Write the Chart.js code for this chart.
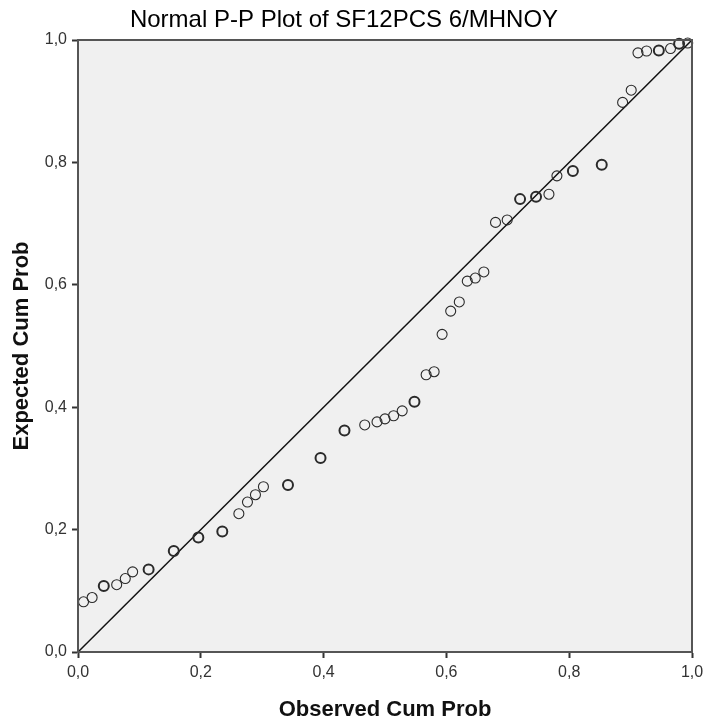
<!DOCTYPE html>
<html>
<head>
<meta charset="utf-8">
<script src="https://cdn.jsdelivr.net/npm/chart.js@4.4.1/dist/chart.umd.min.js"></script>
<style>
  html, body { margin: 0; padding: 0; background: #fff; }
  #wrap { width: 704px; height: 724px; position: relative; }
</style>
</head>
<body>
<div id="wrap"><canvas id="ppChart" width="704" height="724"></canvas></div>
<script>
// observed cumulative probability (x) and expected cumulative probability (y)
const observedCum = [0.009, 0.023, 0.042, 0.063, 0.077, 0.089, 0.115, 0.156, 0.196, 0.235,
    0.262, 0.276, 0.289, 0.302, 0.342, 0.395, 0.434, 0.467, 0.487, 0.500,
    0.514, 0.528, 0.548, 0.567, 0.580, 0.593, 0.607, 0.621, 0.634, 0.647,
    0.661, 0.680, 0.699, 0.720, 0.746, 0.767, 0.780, 0.806, 0.853, 0.887,
    0.901, 0.912, 0.926, 0.946, 0.965, 0.979, 0.993];
const expectedCum = [0.082, 0.089, 0.108, 0.110, 0.120, 0.131, 0.135, 0.165, 0.187, 0.197,
    0.226, 0.245, 0.257, 0.270, 0.273, 0.317, 0.362, 0.371, 0.376, 0.381,
    0.386, 0.394, 0.409, 0.453, 0.458, 0.519, 0.557, 0.572, 0.606, 0.611,
    0.621, 0.702, 0.706, 0.740, 0.744, 0.748, 0.778, 0.786, 0.796, 0.898,
    0.918, 0.979, 0.982, 0.983, 0.986, 0.994, 0.995];
// number of cases sharing each point (tied values are drawn heavier)
const caseCount = [1, 1, 2, 1, 1, 1, 2, 2, 2, 2,
    1, 1, 1, 1, 2, 2, 2, 1, 1, 1,
    1, 1, 2, 1, 1, 1, 1, 1, 1, 1,
    1, 1, 1, 2, 2, 1, 1, 2, 2, 1,
    1, 1, 1, 2, 1, 2, 1];
const refLine = [0, 1];
const tickValues = [0, 0.2, 0.4, 0.6, 0.8, 1.0];

const fmt = v => v.toFixed(1).replace('.', ',');
const FONT = '"Liberation Sans", Arial, sans-serif';

const points = observedCum.map((x, i) => ({ x: x, y: expectedCum[i] }));

// grey plot background plus the box round it, and the title
const plotBox = {
    id: 'plotBox',
    beforeDatasetsDraw(chart) {
        const a = chart.chartArea, ctx = chart.ctx;
        ctx.save();
        ctx.fillStyle = '#f0f0f0';
        ctx.fillRect(a.left, a.top, a.right - a.left, a.bottom - a.top);
        ctx.restore();
    },
    afterDraw(chart) {
        const a = chart.chartArea, ctx = chart.ctx;
        ctx.save();
        ctx.strokeStyle = '#555';
        ctx.lineWidth = 2;
        ctx.strokeRect(a.left, a.top, a.right - a.left, a.bottom - a.top);
        ctx.fillStyle = '#000';
        ctx.font = '24px ' + FONT;
        ctx.textAlign = 'center';
        ctx.textBaseline = 'middle';
        ctx.fillText('Normal P-P Plot of SF12PCS 6/MHNOY', 344, 20);
        ctx.restore();
    }
};

new Chart(document.getElementById('ppChart'), {
    type: 'scatter',
    data: {
        datasets: [{
            label: 'cases',
            data: points,
            showLine: false,
            pointRadius: 5,
            pointHoverRadius: 5,
            pointBackgroundColor: 'rgba(0,0,0,0)',
            pointBorderColor: '#2a2a2a',
            pointBorderWidth: ctx => caseCount[ctx.dataIndex] > 1 ? 2 : 1.1,
            clip: false
        }, {
            label: 'reference',
            data: refLine.map(v => ({ x: v, y: v })),
            showLine: true,
            borderColor: '#111',
            borderWidth: 1.5,
            pointRadius: 0,
            fill: false
        }]
    },
    options: {
        responsive: false,
        animation: false,
        events: [],
        layout: { padding: { top: 40, right: 12, left: 0, bottom: 0 } },
        plugins: {
            legend: { display: false },
            title: { display: false },
            tooltip: { enabled: false }
        },
        scales: {
            x: {
                type: 'linear',
                min: 0, max: 1,
                afterBuildTicks: s => { s.ticks = tickValues.map(v => ({ value: v })); },
                afterFit: s => { s.height = 72; s.paddingLeft = 0; s.paddingRight = 0; },
                border: { display: true, color: '#555', width: 2 },
                grid: { drawOnChartArea: false, drawTicks: true, tickLength: 6, tickColor: '#333', tickWidth: 2 },
                ticks: {
                    callback: v => fmt(v),
                    color: '#333',
                    padding: 5,
                    maxRotation: 0,
                    font: { family: FONT, size: 16 }
                },
                title: {
                    display: true,
                    text: 'Observed Cum Prob',
                    color: '#111',
                    padding: { top: 0, bottom: 1 },
                    font: { family: FONT, size: 22, weight: 'bold' }
                }
            },
            y: {
                type: 'linear',
                min: 0, max: 1,
                afterBuildTicks: s => { s.ticks = tickValues.map(v => ({ value: v })); },
                afterFit: s => { s.width = 78; s.paddingTop = 0; s.paddingBottom = 0; },
                border: { display: true, color: '#555', width: 2 },
                grid: { drawOnChartArea: false, drawTicks: true, tickLength: 6, tickColor: '#333', tickWidth: 2 },
                ticks: {
                    callback: v => fmt(v),
                    color: '#333',
                    padding: 5,
                    font: { family: FONT, size: 16 }
                },
                title: {
                    display: true,
                    text: 'Expected Cum Prob',
                    color: '#111',
                    padding: { top: 9, bottom: 0 },
                    font: { family: FONT, size: 22, weight: 'bold' }
                }
            }
        }
    },
    plugins: [plotBox]
});
</script>
</body>
</html>
